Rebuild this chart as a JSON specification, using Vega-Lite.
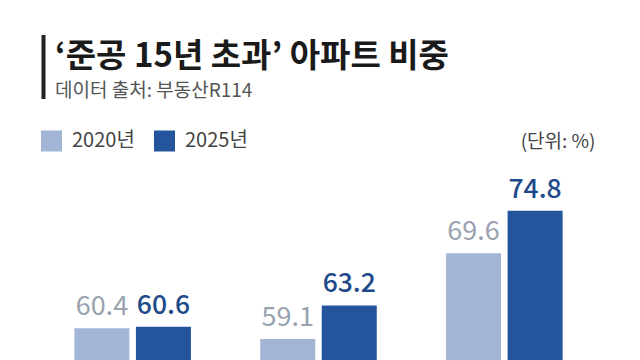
{
  "$schema": "https://vega.github.io/schema/vega-lite/v6.json",
  "width": 557,
  "height": 200,
  "autosize": {"type": "none"},
  "padding": {"left": 40, "top": 160, "right": 43, "bottom": 0},
  "background": "white",
  "config": {
    "view": {"stroke": null},
    "font": "Noto Sans CJK KR"
  },
  "title": {
    "text": "‘준공 15년 초과’ 아파트 비중",
    "subtitle": "데이터 출처: 부동산R114",
    "anchor": "start",
    "frame": "group",
    "font": "Noto Sans CJK KR",
    "fontSize": 33,
    "fontWeight": "bold",
    "color": "#1a1a1a",
    "subtitleFont": "Noto Sans CJK KR",
    "subtitleFontSize": 19,
    "subtitleFontWeight": "normal",
    "subtitleColor": "#555555",
    "subtitlePadding": 8,
    "offset": -66,
    "dx": 15
  },
  "data": {
    "values": [
      {"group": "그룹1", "year": "2020년", "value": 60.4},
      {"group": "그룹1", "year": "2025년", "value": 60.6},
      {"group": "그룹2", "year": "2020년", "value": 59.1},
      {"group": "그룹2", "year": "2025년", "value": 63.2},
      {"group": "그룹3", "year": "2020년", "value": 69.6},
      {"group": "그룹3", "year": "2025년", "value": 74.8}
    ]
  },
  "encoding": {
    "x": {"field": "group", "type": "nominal", "axis": null, "scale": {"paddingInner": 0.373, "paddingOuter": 0.185}},
    "xOffset": {"field": "year", "type": "nominal", "scale": {"paddingInner": 0.106, "paddingOuter": 0}},
    "y": {
      "field": "value", "type": "quantitative",
      "scale": {"domain": [56.53, 81.0], "zero": false, "nice": false},
      "axis": {
        "orient": "right", "domain": false, "ticks": false, "labels": false, "grid": false,
        "title": "(단위: %)", "titleAngle": 0, "titleAlign": "right", "titleBaseline": "middle",
        "titleX": -2, "titleY": -18.5, "titleFontSize": 19, "titleFontWeight": "normal",
        "titleColor": "#444444", "titleFont": "Noto Sans CJK KR"
      }
    }
  },
  "layer": [
    {
      "mark": {"type": "bar", "clip": true, "strokeWidth": 0},
      "encoding": {
        "color": {
          "field": "year", "type": "nominal",
          "scale": {"domain": ["2020년", "2025년"], "range": ["#A3B5D6", "#24559C"]},
          "legend": {
            "orient": "none", "direction": "horizontal", "title": null,
            "legendX": 1, "legendY": -29.5, "padding": 0,
            "symbolType": "square", "symbolSize": 441, "symbolStrokeWidth": 0,
            "labelFontSize": 20, "labelColor": "#444444", "labelFont": "Noto Sans CJK KR",
            "labelOffset": 10, "columnPadding": 19
          }
        },
        "stroke": {
          "field": "value", "type": "quantitative",
          "scale": {"range": ["#222222", "#222222"]},
          "legend": {
            "type": "gradient", "orient": "none", "direction": "vertical",
            "gradientLength": 64, "gradientThickness": 4, "gradientStrokeWidth": 0,
            "labelOpacity": 0, "labelFontSize": 1, "title": null, "padding": 0,
            "legendX": 1.5, "legendY": -125
          }
        }
      }
    },
    {
      "transform": [{"filter": "datum.year === '2020년'"}],
      "mark": {"type": "text", "baseline": "alphabetic", "dy": -13, "fontSize": 27, "font": "Noto Sans CJK KR", "fontWeight": "normal", "color": "#99A2AF"},
      "encoding": {"text": {"field": "value", "type": "quantitative", "format": ".1f"}}
    },
    {
      "transform": [{"filter": "datum.year === '2025년'"}],
      "mark": {"type": "text", "baseline": "alphabetic", "dy": -13, "fontSize": 26.5, "font": "Noto Sans CJK KR", "fontWeight": 500, "color": "#1E4A8A"},
      "encoding": {"text": {"field": "value", "type": "quantitative", "format": ".1f"}}
    }
  ]
}
